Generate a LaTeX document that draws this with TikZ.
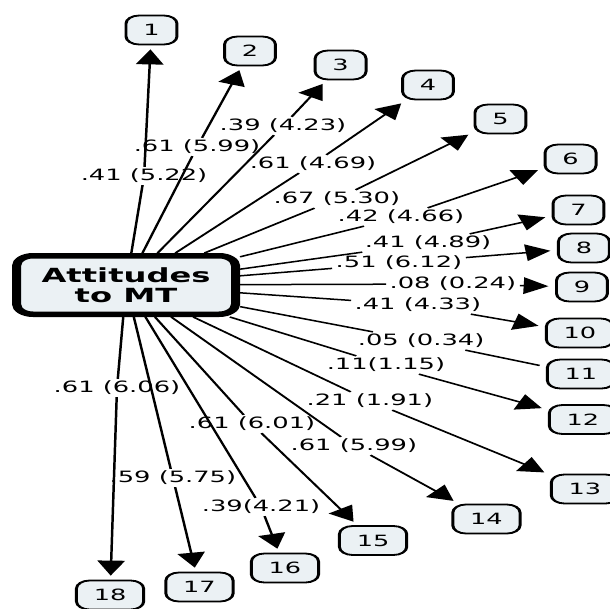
\documentclass[tikz,border=0pt]{standalone}
\usepackage{fontspec}
\newfontfamily\dvfont{DejaVu Sans}
\usetikzlibrary{%
  arrows.meta%
}
\definecolor{boxfill}{HTML}{EBF1F4}
\tikzset{>={Triangle[length=15pt,width=16.5pt]}}
\tikzset{item/.style = {draw, line width=1.8pt, rounded corners=8pt,
    fill=boxfill, minimum height=29pt, inner xsep=10.5pt,
    font=\dvfont\fontsize{15.5}{17}\selectfont},%
  coef/.style = {inner sep=2pt, font=\dvfont\fontsize{15.6}{17}\selectfont},%
  conn/.style = {->, line width=1.5pt, shorten >=4pt}}

\begin{document}
\begin{tikzpicture}[x=1pt,y=-1pt]
  \useasboundingbox (0,0) rectangle (610,608);
  \begin{scope}[transform canvas={xscale=1.65}]
    % construct in the middle
    \node[item, line width=5.5pt, rounded corners=10pt, minimum width=132.7pt,
      minimum height=58.5pt, align=center,
      font=\dvfont\fontsize{19.5}{20.5}\selectfont\bfseries] (mt) at (76.4,285)
      {Attitudes\\to MT};
    % items
    \node[item] (n1) at (91.8,30) {1};
    \node[item] (n2) at (151.5,51) {2};
    \node[item] (n3) at (206.4,65) {3};
    \node[item] (n4) at (259.4,85) {4};
    \node[item] (n5) at (303.3,119) {5};
    \node[item] (n6) at (345.8,159) {6};
    \node[item] (n7) at (350.6,210) {7};
    \node[item] (n8) at (353.9,248) {8};
    \node[item] (n9) at (352.7,287) {9};
    \node[item] (n10) at (351.5,333) {10};
    \node[item] (n11) at (352.1,374) {11};
    \node[item] (n12) at (353.3,419.5) {12};
    \node[item] (n13) at (354.5,489) {13};
    \node[item] (n14) at (294.8,519) {14};
    \node[item] (n15) at (226.1,540.5) {15};
    \node[item] (n16) at (172.7,568) {16};
    \node[item] (n17) at (120.9,587) {17};
    \node[item] (n18) at (66.7,595) {18};
    % loadings (t values)
    \node[coef] (l1) at (87.3,176) {.41 (5.22)};
    \node[coef] (l2) at (119.4,147) {.61 (5.99)};
    \node[coef] (l3) at (171.5,126) {.39 (4.23)};
    \node[coef] (l4) at (189.7,164) {.61 (4.69)};
    \node[coef] (l5) at (204.2,199) {.67 (5.30)};
    \node[coef] (l6) at (243.0,217) {.42 (4.66)};
    \node[coef] (l7) at (259.4,243) {.41 (4.89)};
    \node[coef] (l8) at (241.8,263) {.51 (6.12)};
    \node[coef] (l9) at (274.5,284) {.08 (0.24)};
    \node[coef] (l10) at (253.3,305) {.41 (4.33)};
    \node[coef] (l11) at (255.2,341) {.05 (0.34)};
    \node[coef] (l12) at (233.9,365) {.11(1.15)};
    \node[coef] (l13) at (224.2,401) {.21 (1.91)};
    \node[coef] (l14) at (214.5,446) {.61 (5.99)};
    \node[coef] (l15) at (152.7,424) {.61 (6.01)};
    \node[coef] (l16) at (158.2,507) {.39(4.21)};
    \node[coef] (l17) at (104.8,478) {.59 (5.75)};
    \node[coef] (l18) at (70.9,388) {.61 (6.06)};
    % paths
    \draw[conn] (mt) -- (l1) -- (n1);
    \draw[conn] (mt) -- (l2) -- (n2);
    \draw[conn] (mt) -- (l3) -- (n3);
    \draw[conn] (mt) -- (l4) -- (n4);
    \draw[conn] (mt) -- (l5) -- (n5);
    \draw[conn] (mt) -- (l6) -- (n6);
    \draw[conn] (mt) -- (l7) -- (n7);
    \draw[conn] (mt) -- (l8) -- (n8);
    \draw[conn] (mt) -- (l9) -- (n9);
    \draw[conn] (mt) -- (l10) -- (n10);
    \draw[conn,-] (mt) -- (l11) -- (n11);
    \draw[conn] (mt) -- (l12) -- (n12);
    \draw[conn] (mt) -- (l13) -- (n13);
    \draw[conn] (mt) -- (l14) -- (n14);
    \draw[conn] (mt) -- (l15) -- (n15);
    \draw[conn] (mt) -- (l16) -- (n16);
    \draw[conn] (mt) -- (l17) -- (n17);
    \draw[conn] (mt) -- (l18) -- (n18);
  \end{scope}
\end{tikzpicture}
\end{document}
